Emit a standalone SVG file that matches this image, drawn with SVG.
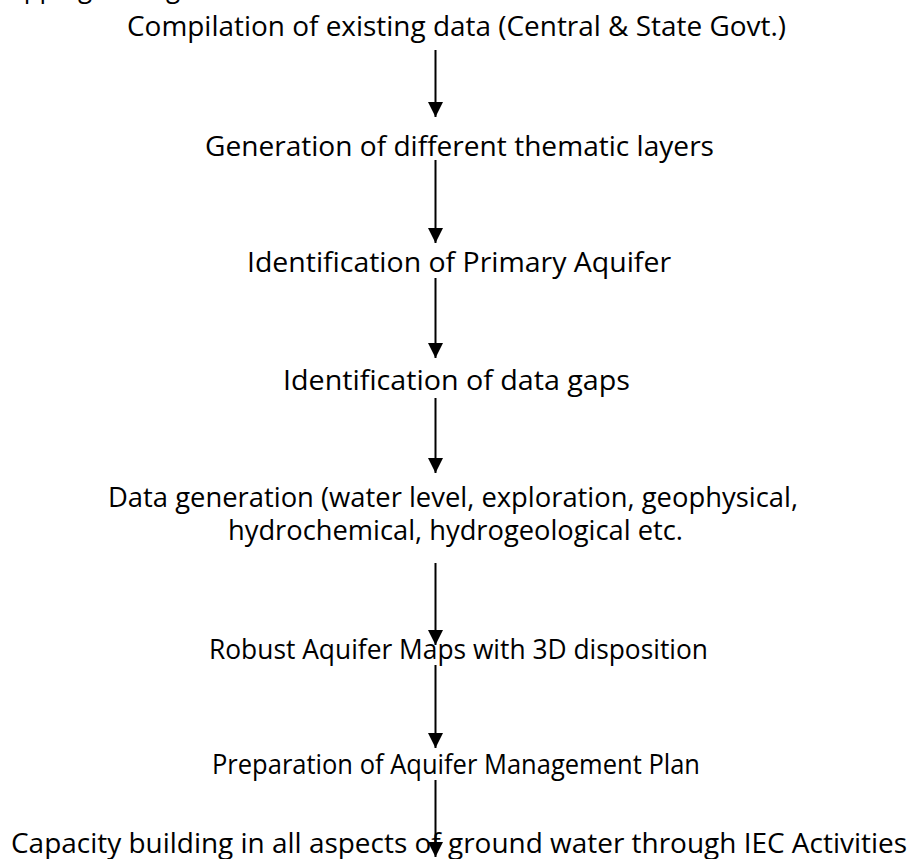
<svg xmlns="http://www.w3.org/2000/svg" width="912" height="859" viewBox="0 0 912 859">
<style>
text{font-family:"Open Sans","Liberation Sans",sans-serif;font-size:27px;fill:#000;}
.c{text-anchor:middle;}
.conn line{stroke:#000;stroke-width:2;}
</style>
<defs>
<marker id="ah" markerUnits="userSpaceOnUse" markerWidth="16" markerHeight="16" viewBox="0 0 16 16" refX="15" refY="8" orient="auto">
<path d="M0,0.5 L15,8 L0,15.5 Z" fill="#000"/>
</marker>
</defs>
<rect width="912" height="859" fill="#fff"/>
<text x="-14" y="-3" textLength="210" lengthAdjust="spacingAndGlyphs">Mapping through</text>
<g id="n1"><text class="c" x="456.5" y="36" textLength="659" lengthAdjust="spacingAndGlyphs">Compilation of existing data (Central &amp; State Govt.)</text></g>
<g id="n2"><text class="c" x="459.5" y="156" textLength="509" lengthAdjust="spacingAndGlyphs">Generation of different thematic layers</text></g>
<g id="n3"><text class="c" x="459" y="272" textLength="424" lengthAdjust="spacingAndGlyphs">Identification of Primary Aquifer</text></g>
<g id="n4"><text class="c" x="456.5" y="390" textLength="347" lengthAdjust="spacingAndGlyphs">Identification of data gaps</text></g>
<g id="n5"><text class="c" x="453" y="507" textLength="690" lengthAdjust="spacingAndGlyphs">Data generation (water level, exploration, geophysical,</text>
<text class="c" x="455.5" y="540" textLength="455" lengthAdjust="spacingAndGlyphs">hydrochemical, hydrogeological etc.</text></g>
<g id="n6"><text class="c" x="458.5" y="659" textLength="499" lengthAdjust="spacingAndGlyphs">Robust Aquifer Maps with 3D disposition</text></g>
<g id="n7"><text class="c" x="456" y="774" textLength="488" lengthAdjust="spacingAndGlyphs">Preparation of Aquifer Management Plan</text></g>
<g id="n8"><text class="c" x="459" y="853" textLength="896" lengthAdjust="spacingAndGlyphs">Capacity building in all aspects of ground water through IEC Activities</text></g>
<g id="connectors" class="conn">
<line x1="435.5" y1="50" x2="435.5" y2="117" marker-end="url(#ah)"/>
<line x1="435.5" y1="160" x2="435.5" y2="243" marker-end="url(#ah)"/>
<line x1="435.5" y1="278" x2="435.5" y2="358" marker-end="url(#ah)"/>
<line x1="435.5" y1="398" x2="435.5" y2="473" marker-end="url(#ah)"/>
<line x1="435.5" y1="563" x2="435.5" y2="645" marker-end="url(#ah)"/>
<line x1="435.5" y1="665" x2="435.5" y2="748" marker-end="url(#ah)"/>
<line x1="435.5" y1="780" x2="435.5" y2="857" marker-end="url(#ah)"/>
</g>
</svg>
